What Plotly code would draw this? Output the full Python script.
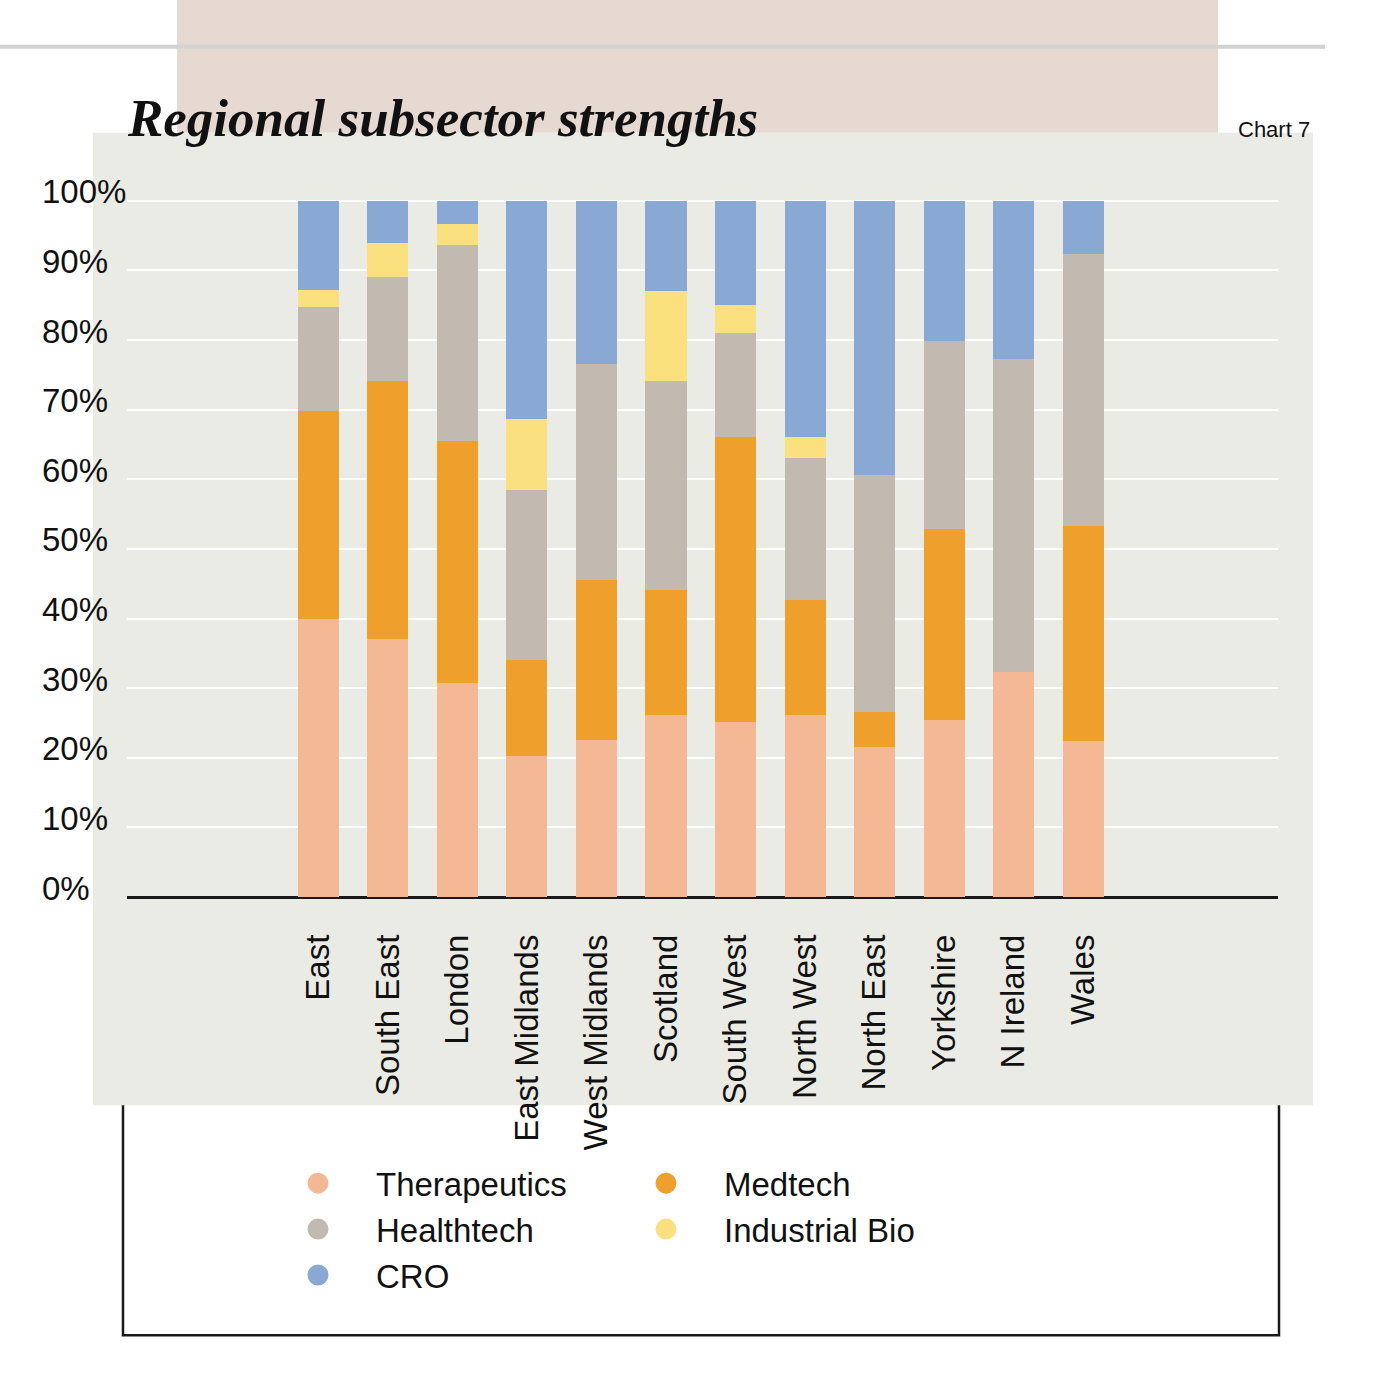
import plotly.graph_objects as go

# ---------------- data ----------------
regions = ["East", "South East", "London", "East Midlands", "West Midlands", "Scotland",
           "South West", "North West", "North East", "Yorkshire", "N Ireland", "Wales"]
therapeutics = [40.0, 37.1, 30.7, 20.2, 22.6, 26.1, 25.1, 26.1, 21.6, 25.4, 32.3, 22.4]
medtech = [29.8, 37.0, 34.8, 13.9, 23.0, 18.0, 41.0, 16.5, 5.0, 27.5, 0.0, 30.9]
healthtech = [14.9, 15.0, 28.1, 24.4, 31.0, 30.0, 14.9, 20.5, 34.0, 26.9, 45.0, 39.1]
industrial_bio = [2.5, 4.9, 3.0, 10.1, 0.0, 12.9, 4.1, 3.0, 0.0, 0.0, 0.0, 0.0]
cro = [12.8, 6.0, 3.4, 31.4, 23.4, 13.0, 14.9, 33.9, 39.4, 20.2, 22.7, 7.6]
y_tick_values = [0, 10, 20, 30, 40, 50, 60, 70, 80, 90, 100]
y_tick_labels = ["0%", "10%", "20%", "30%", "40%", "50%", "60%", "70%", "80%", "90%", "100%"]

series = [
    ("Therapeutics", therapeutics, "#F4B994", "legend"),
    ("Medtech", medtech, "#EF9F2B", "legend2"),
    ("Healthtech", healthtech, "#C2BAB0", "legend"),
    ("Industrial Bio", industrial_bio, "#FAE07E", "legend2"),
    ("CRO", cro, "#89A8D4", "legend"),
]
bar_order = ["Therapeutics", "Medtech", "Healthtech", "Industrial Bio", "CRO"]
legend_order = ["Therapeutics", "Healthtech", "CRO", "Medtech", "Industrial Bio"]

# ---------------- geometry ----------------
W, H = 1390, 1400
Y_BOT, Y_TOP = -3, 106      # padded axis range (0% at pixel 897, 100% at pixel 201)
PX_PER_UNIT = 6.96
ML, MR = 38, 112
ZERO_PX = 897
MB = H - (ZERO_PX - Y_BOT * PX_PER_UNIT)
PH = (Y_TOP - Y_BOT) * PX_PER_UNIT
MT = H - MB - PH
PW = W - ML - MR
BOTTOM_PX = H - MB


def px_x(p):
    return (p - ML) / PW


def px_y(p):
    return (BOTTOM_PX - p) / PH


SANS = "Liberation Sans"
TXT = "#111111"

fig = go.Figure()
lookup = {s[0]: s for s in series}
for name in bar_order:
    _, vals, col, _ = lookup[name]
    fig.add_trace(go.Bar(x=regions, y=vals, name=name, marker=dict(color=col, line=dict(width=0)),
                         showlegend=False, hoverinfo="x+y+name"))

for name in legend_order:
    _, vals, col, leg = lookup[name]
    fig.add_trace(go.Scatter(x=[None], y=[None], mode="markers", name=name, legend=leg,
                             legendgroup=name,
                             marker=dict(color=col, size=16, line=dict(color=col, width=5))))

shapes = [
    dict(type="rect", xref="paper", yref="paper", x0=px_x(177), x1=px_x(1218), y0=px_y(133), y1=px_y(0),
         fillcolor="#E5D9D1", line=dict(width=0), layer="below"),
    dict(type="line", xref="paper", yref="paper", x0=px_x(0), x1=px_x(1325), y0=px_y(47), y1=px_y(47),
         line=dict(color="#D2D2D2", width=4), layer="below"),
    dict(type="rect", xref="paper", yref="paper", x0=px_x(123), x1=px_x(1279), y0=px_y(1335), y1=px_y(1095),
         fillcolor="#FFFFFF", line=dict(color="#1A1A1A", width=2.5), layer="below"),
    dict(type="rect", xref="paper", yref="paper", x0=px_x(93), x1=px_x(1313), y0=px_y(1105), y1=px_y(133),
         fillcolor="#EBEBE6", line=dict(width=0), layer="below"),
]

annotations = [
    dict(text="Regional subsector strengths", xref="paper", yref="paper", x=px_x(125), y=px_y(149),
         xanchor="left", yanchor="bottom", showarrow=False,
         font=dict(family="Liberation Serif", size=53, color="#111111", weight="bold", style="italic")),
    dict(text="Chart 7", xref="paper", yref="paper", x=px_x(1312), y=px_y(144),
         xanchor="right", yanchor="bottom", showarrow=False,
         font=dict(family=SANS, size=22, color=TXT)),
]

legend_common = dict(orientation="v", xanchor="left", yanchor="top", itemwidth=106,
                     bgcolor="rgba(0,0,0,0)", traceorder="normal",
                     font=dict(family=SANS, size=33, color=TXT))

fig.update_layout(
    width=W, height=H,
    margin=dict(l=ML, r=MR, t=MT, b=MB, pad=0),
    paper_bgcolor="#FFFFFF", plot_bgcolor="rgba(0,0,0,0)",
    barmode="stack", bargap=0.41,
    showlegend=True,
    legend=dict(x=px_x(260), y=px_y(1155), **legend_common),
    legend2=dict(x=px_x(608), y=px_y(1155), **legend_common),
    shapes=shapes, annotations=annotations,
    font=dict(family=SANS, color=TXT),
    xaxis=dict(domain=[px_x(127), 1], range=[-2.75, 13.8], type="category",
               tickangle=-90, tickfont=dict(family=SANS, size=33, color=TXT),
               showline=False, ticks="",
               ticklabelstandoff=9, showgrid=False, zeroline=False),
    yaxis=dict(range=[Y_BOT, Y_TOP], anchor="free", position=0,
               tickvals=y_tick_values, ticktext=y_tick_labels,
               ticklabelposition="inside top", ticklabelshift=14, ticks="",
               tickfont=dict(family=SANS, size=33, color=TXT),
               showgrid=True, gridcolor="#FFFFFF", gridwidth=2,
               zeroline=True, zerolinecolor="#1A1A1A", zerolinewidth=3, showline=False),
)

fig.write_html("out.html", config={"displayModeBar": False},
               post_script="document.body.style.margin='0px';")
